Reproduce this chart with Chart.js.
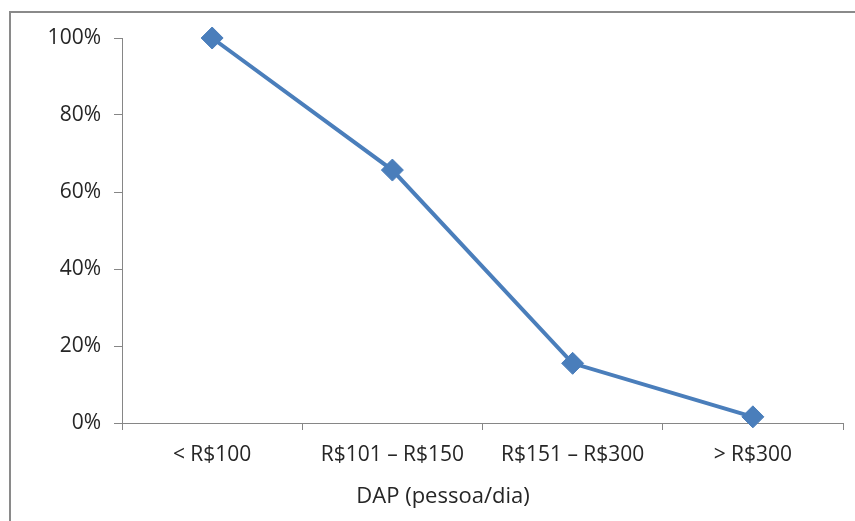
<!DOCTYPE html>
<html>
<head>
<meta charset="utf-8">
<script src="https://cdn.jsdelivr.net/npm/chart.js@4.4.1/dist/chart.umd.min.js"></script>
<style>
  html, body { margin: 0; padding: 0; background: #fff; }
  #wrap { position: relative; width: 855px; height: 521px; }
</style>
</head>
<body>
<div id="wrap"><canvas id="dapChart" width="855" height="521"></canvas></div>
<script>
// Data
const categories = ['< R$100', 'R$101 – R$150', 'R$151 – R$300', '> R$300'];
const shares = [100, 65.7, 15.5, 1.6];
const yTickStep = 20;
const yMax = 100;
const xTitle = 'DAP (pessoa/dia)';

const lineColor = '#4A7EBB';
const axisColor = '#868686';
const textColor = '#262626';
const family = '"Open Sans", "Noto Sans", sans-serif';
const tickFont = { family: family, size: 21 };

// Frame (only top/left edges are inside the picture) and the axis title
const framePlugin = {
  id: 'frame',
  beforeDraw(chart) {
    const ctx = chart.ctx;
    ctx.save();
    ctx.fillStyle = '#fff';
    ctx.fillRect(0, 0, chart.width, chart.height);
    ctx.strokeStyle = '#8a8a8a';
    ctx.lineWidth = 2;
    ctx.strokeRect(10, 12, chart.width + 50, chart.height + 50);
    ctx.restore();
  },
  afterDraw(chart) {
    const ctx = chart.ctx;
    ctx.save();
    ctx.font = '22px ' + family;
    ctx.fillStyle = textColor;
    ctx.textAlign = 'center';
    ctx.textBaseline = 'middle';
    ctx.fillText(xTitle, 443, 497);
    ctx.restore();
  }
};

const ctx = document.getElementById('dapChart').getContext('2d');
new Chart(ctx, {
  type: 'line',
  data: {
    labels: categories,
    datasets: [{
      data: shares,
      borderColor: lineColor,
      backgroundColor: lineColor,
      borderWidth: 4,
      tension: 0,
      pointStyle: 'rectRot',
      pointRadius: 11,
      pointHoverRadius: 11,
      pointBackgroundColor: lineColor,
      pointBorderColor: lineColor,
      pointBorderWidth: 1,
      clip: false
    }]
  },
  options: {
    responsive: false,
    devicePixelRatio: 1,
    animation: false,
    layout: { padding: { left: 0, right: 11, top: 38, bottom: 0 } },
    plugins: {
      legend: { display: false },
      title: { display: false },
      tooltip: { enabled: false }
    },
    scales: {
      x: {
        offset: true,
        grid: { offset: true, drawOnChartArea: false, drawTicks: true, tickLength: 7, color: axisColor },
        border: { display: true, color: axisColor, width: 1 },
        ticks: { color: textColor, font: tickFont, padding: 12, maxRotation: 0 },
        afterFit(scale) { scale.height = 98; }
      },
      y: {
        min: 0,
        max: yMax,
        grid: { drawOnChartArea: false, drawTicks: true, tickLength: 8, color: axisColor },
        border: { display: true, color: axisColor, width: 1 },
        ticks: {
          stepSize: yTickStep,
          color: textColor,
          font: tickFont,
          padding: 13,
          callback: v => v + '%'
        },
        afterFit(scale) { scale.width = 122; }
      }
    }
  },
  plugins: [framePlugin]
});
</script>
</body>
</html>
